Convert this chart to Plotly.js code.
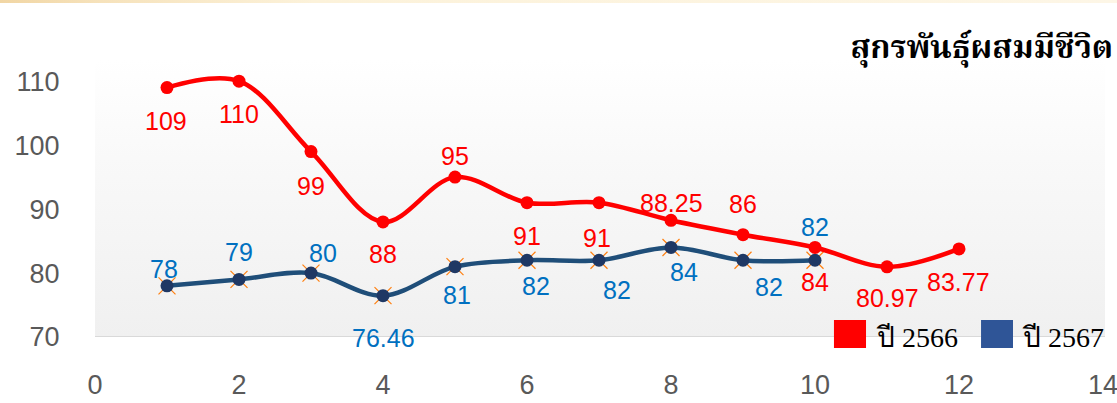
<!DOCTYPE html>
<html><head><meta charset="utf-8">
<script src="https://cdn.plot.ly/plotly-3.0.1.min.js"></script>
<style>
html,body{margin:0;padding:0;background:#fff;}
#wrap{position:relative;width:1117px;height:403px;overflow:hidden;}
#topband{position:absolute;left:0;top:0;width:1117px;height:3px;background:linear-gradient(to right,#f1d6a4 0%,#f6e2bb 9%,#fcf2da 28%,#fdf6e6 100%);}
#plotbg{position:absolute;left:95px;top:60px;width:1010px;height:277px;background:linear-gradient(to bottom,#ffffff 0%,#f9f9f9 35%,#f0f0f0 100%);}
#chart{position:absolute;left:0;top:0;width:1117px;height:403px;}
</style></head>
<body>
<div id="wrap"><div id="plotbg"></div><div id="topband"></div><div id="chart"></div></div>
<script>
// ---- data ----
const chartTitle = 'สุกรพันธุ์ผสมมีชีวิต';
const seriesNames = ['ปี 2566', 'ปี 2567'];
const months2566 = [1,2,3,4,5,6,7,8,9,10,11,12];
const values2566 = [109,110,99,88,95,91,91,88.25,86,84,80.97,83.77];
const months2567 = [1,2,3,4,5,6,7,8,9,10];
const values2567 = [78,79,80,76.46,81,82,82,84,82,82];
const xTickVals = [0,2,4,6,8,10,12,14];
const yTickVals = [70,80,90,100,110];

// ---- label placement (style: pixel offsets, + = down) ----
const labelDy2566 = [33,33,34,32,-21,33,35,-17,-31,35,31,33];
const labelDx2566 = [-1,0,0,0,0,0,-2,0,0,0,0,-1];
const labelDy2567 = [-17,-27,-20,42,28,26,30,25,27,-33];
const labelDx2567 = [-3,0,12,0,2,9,18,13,26,0];

const RED = '#ff0000', BLUE_LINE = '#1f4e79', BLUE_MK = '#1f3864', BLUE_TXT = '#0070c0', BLUE_LEG = '#2f5597';
const sansFont = 'Liberation Sans, Arial, sans-serif';
const serifFont = 'Liberation Serif, Times New Roman, serif';
const thaiSerif = 'Norasi, Noto Serif Thai, Liberation Serif, serif';

const traces = [
  {x: months2567, y: values2567, mode: 'lines', line: {color: BLUE_LINE, width: 4.5, shape: 'spline'}, hoverinfo: 'skip', showlegend: false},
  {x: months2567, y: values2567, mode: 'markers', marker: {symbol: 'x-thin-open', size: 17, line: {color: '#ffc000', width: 1.2}}, hoverinfo: 'skip', showlegend: false},
  {x: months2567, y: values2567, mode: 'markers', name: seriesNames[1], marker: {symbol: 'circle', size: 13, color: BLUE_MK}, showlegend: false},
  {x: months2566, y: values2566, mode: 'lines', line: {color: RED, width: 4.5, shape: 'spline'}, hoverinfo: 'skip', showlegend: false},
  {x: months2566, y: values2566, mode: 'markers', name: seriesNames[0], marker: {symbol: 'circle', size: 13, color: RED}, showlegend: false}
];

const annotations = [];
months2566.forEach((m, i) => annotations.push({
  x: m, y: values2566[i], xref: 'x', yref: 'y', text: String(values2566[i]), showarrow: false,
  xshift: labelDx2566[i], yshift: -labelDy2566[i], font: {family: sansFont, size: 25, color: RED}
}));
months2567.forEach((m, i) => annotations.push({
  x: m, y: values2567[i], xref: 'x', yref: 'y', text: String(values2567[i]), showarrow: false,
  xshift: labelDx2567[i], yshift: -labelDy2567[i], font: {family: sansFont, size: 25, color: BLUE_TXT}
}));
// plot area: y 70 at 337px, 113 at 62px -> paper y = (337 - px) / 275
const py = p => (337 - p) / 275;
annotations.push({xref: 'paper', yref: 'paper', x: 0.7728, y: py(337), xanchor: 'left', yanchor: 'middle', showarrow: false,
  text: seriesNames[0], font: {family: serifFont, size: 28, color: '#000'}});
annotations.push({xref: 'paper', yref: 'paper', x: 0.9177, y: py(337), xanchor: 'left', yanchor: 'middle', showarrow: false,
  text: seriesNames[1], font: {family: serifFont, size: 28, color: '#000'}});

const shapes = [
  {type: 'line', xref: 'paper', yref: 'y', x0: 0, x1: 1.002, y0: 70, y1: 70, line: {color: '#d9d9d9', width: 2}, layer: 'below'},
  {type: 'rect', xref: 'paper', yref: 'paper', x0: 0.7331, x1: 0.7649, y0: py(348), y1: py(320), fillcolor: RED, line: {width: 0}},
  {type: 'rect', xref: 'paper', yref: 'paper', x0: 0.879, x1: 0.9107, y0: py(348), y1: py(320), fillcolor: BLUE_LEG, line: {width: 0}}
];

const layout = {
  width: 1117, height: 403,
  margin: {l: 95, r: 14, t: 62, b: 66},
  paper_bgcolor: 'rgba(0,0,0,0)', plot_bgcolor: 'rgba(0,0,0,0)',
  showlegend: false,
  title: {text: '<b>' + chartTitle + '</b>', xref: 'container', yref: 'container', x: 0.9965, xanchor: 'right', y: 0.883, yanchor: 'middle',
    font: {family: thaiSerif, size: 32, color: '#000'}},
  xaxis: {range: [0, 14], tickvals: xTickVals, ticks: 'outside', ticklen: 24, tickcolor: 'rgba(0,0,0,0)', ticklabeloverflow: 'allow',
    showgrid: false, zeroline: false, showline: false, tickfont: {family: sansFont, size: 27, color: '#595959'}, fixedrange: true},
  yaxis: {range: [70, 113], tickvals: yTickVals, ticks: 'outside', ticklen: 29, tickcolor: 'rgba(0,0,0,0)',
    showgrid: false, zeroline: false, showline: false, tickfont: {family: sansFont, size: 27, color: '#595959'}, fixedrange: true},
  annotations: annotations,
  shapes: shapes
};
traces.forEach(t => t.cliponaxis = false);
Plotly.newPlot('chart', traces, layout, {displayModeBar: false, staticPlot: true});
</script>
</body></html>
